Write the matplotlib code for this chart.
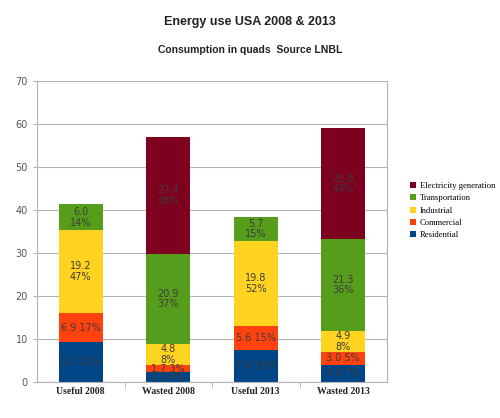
import numpy as np
import matplotlib
matplotlib.use("Agg")
import matplotlib.pyplot as plt

# datos (quads)
categorias = ["Useful 2008", "Wasted 2008", "Useful 2013", "Wasted 2013"]
series = ["Residential", "Commercial", "Industrial", "Transportation", "Electricity generation"]
residential = [9.2, 2.3, 7.4, 4.0]
commercial = [6.9, 1.7, 5.6, 3.0]
industrial = [19.2, 4.8, 19.8, 4.9]
transportation = [6.0, 20.9, 5.7, 21.3]
electricity = [0, 27.4, 0, 25.8]
pct_residential = [22, 4, 19, 7]
pct_commercial = [17, 3, 15, 5]
pct_industrial = [47, 8, 52, 8]
pct_transportation = [14, 37, 15, 36]
pct_electricity = [0, 48, 0, 44]
# que etiquetas van en una sola linea
una_linea = ["Residential", "Commercial"]

colores = ["#004586", "#ff420e", "#ffd320", "#579d1c", "#7e0021"]

valores = [residential, commercial, industrial, transportation, electricity]
pcts = [pct_residential, pct_commercial, pct_industrial, pct_transportation, pct_electricity]

fig = plt.figure(figsize=(5, 4.18), dpi=100)
ax = fig.add_axes([0.074, 0.086, 0.700, 0.720])

x = np.arange(len(categorias))
base = np.zeros(len(categorias))
for nombre, vals, pc, col in zip(series, valores, pcts, colores):
    ax.bar(x, vals, width=0.5, bottom=base, color=col, label=nombre, zorder=2)
    for i, (v, p) in enumerate(zip(vals, pc)):
        if v == 0:
            continue
        sep = " " if nombre in una_linea else "\n"
        ax.text(x[i], base[i] + v / 2, f"{v:.1f}{sep}{p}%", ha="center", va="center",
                fontsize=7, color="#3c3c3c", linespacing=1.05, zorder=3)
    base = base + np.array(vals)

ax.set_xlim(-0.5, 3.5)
ax.set_ylim(0, 70)
ax.set_yticks(range(0, 71, 10))
ax.yaxis.grid(True, color="#b3b3b3", linewidth=0.8, zorder=0)
ax.set_axisbelow(True)
for s in ["left", "right", "bottom"]:
    ax.spines[s].set_color("#b3b3b3")
ax.spines["top"].set_visible(False)
ax.tick_params(axis="y", labelsize=7, colors="#b3b3b3", labelcolor="#555555", length=3)
ax.tick_params(axis="x", length=4, colors="#b3b3b3", labelcolor="#222222")
ax.set_xticks(x)
ax.set_xticklabels(categorias, fontsize=7, fontweight="bold", family="Liberation Serif")
ax.set_xticks([0.5, 1.5, 2.5], minor=True)
ax.tick_params(axis="x", which="major", length=0)
ax.tick_params(axis="x", which="minor", length=4, colors="#b3b3b3")

handles, labels = ax.get_legend_handles_labels()
fig.legend(handles[::-1], labels[::-1], loc="upper left", bbox_to_anchor=(0.814, 0.573),
           frameon=False, prop={"family": "Liberation Serif", "size": 6.2},
           handlelength=0.7, handleheight=0.7, handletextpad=0.4, labelspacing=0.5,
           borderaxespad=0)

fig.text(0.5, 0.948, "Energy use USA 2008 & 2013", ha="center", va="center",
         fontsize=9, fontweight="bold", color="#222222", family="Liberation Sans")
fig.text(0.5, 0.880, "Consumption in quads  Source LNBL", ha="center", va="center",
         fontsize=7.5, fontweight="bold", color="#222222", family="Liberation Sans")

plt.savefig("out.png", dpi=100)
